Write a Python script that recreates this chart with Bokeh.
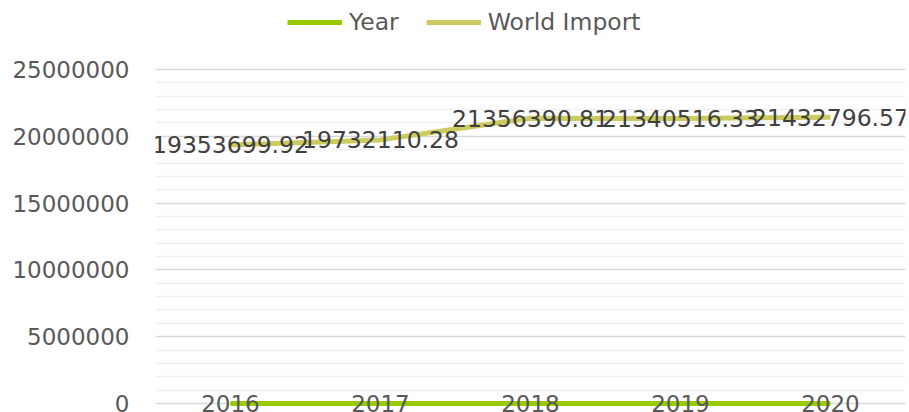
from bokeh.plotting import figure
from bokeh.models import (ColumnDataSource, FixedTicker, NumeralTickFormatter, LabelSet,
                          Legend, LegendItem, Range1d, FactorRange)
from bokeh.core.properties import value
from bokeh.embed import file_html
from bokeh.resources import INLINE

# ---- data ----
years = ["2016", "2017", "2018", "2019", "2020"]
year_values = [2016, 2017, 2018, 2019, 2020]
world_import = [19353699.92, 19732110.28, 21356390.81, 21340516.33, 21432796.57]
y_major_ticks = [0, 5000000, 10000000, 15000000, 20000000, 25000000]
y_minor_ticks = [m for m in range(0, 25000001, 1000000) if m % 5000000]

FONT = "DejaVu Sans"
YEAR_COLOR = "#9ACB00"
IMPORT_COLOR = "#CBCB60"

src = ColumnDataSource(dict(
    year=years,
    year_value=year_values,
    imp=world_import,
    imp_text=[f"{v:.2f}" for v in world_import],
))

p = figure(width=909, height=412,
           x_range=FactorRange(*years),
           y_range=Range1d(-674000, 30165000),
           output_backend="svg", toolbar_location=None,
           min_border_left=155, min_border_right=4,
           min_border_top=0, min_border_bottom=0)
p.outline_line_color = None
p.background_fill_color = "white"
p.border_fill_color = "white"

# grids
p.xgrid.grid_line_color = None
p.yaxis.ticker = FixedTicker(ticks=y_major_ticks, minor_ticks=y_minor_ticks)
p.ygrid.grid_line_color = "#D9D9D9"
p.ygrid.grid_line_width = 1.5
p.ygrid.minor_grid_line_color = "#F0F0F0"
p.ygrid.minor_grid_line_width = 1.5

# y axis
p.yaxis.formatter = NumeralTickFormatter(format="0")
p.yaxis.axis_line_color = None
p.yaxis.major_tick_line_color = None
p.yaxis.minor_tick_line_color = None
p.yaxis.major_label_standoff = 20
p.yaxis.major_label_text_font = FONT
p.yaxis.major_label_text_font_size = "23px"
p.yaxis.major_label_text_color = "#595959"

# x axis drawn at y = 0
p.xaxis.fixed_location = 0
p.xaxis.axis_line_color = None
p.xaxis.major_tick_line_color = None
p.xaxis.minor_tick_line_color = None
p.xaxis.major_label_standoff = -14
p.xaxis.major_label_text_font = FONT
p.xaxis.major_label_text_font_size = "23px"
p.xaxis.major_label_text_color = "#595959"

# lines
r_imp = p.line(x="year", y="imp", source=src, line_color=IMPORT_COLOR, line_width=5)
r_year = p.line(x="year", y="year_value", source=src, line_color=YEAR_COLOR, line_width=5)

labels = LabelSet(x="year", y="imp", text="imp_text", source=src,
                  text_align="center", text_baseline="middle",
                  text_font=value(FONT), text_font_size=value("23.5px"),
                  text_color="#404040")
p.add_layout(labels)

legend = Legend(items=[LegendItem(label="Year", renderers=[r_year]),
                       LegendItem(label="World Import", renderers=[r_imp])],
                orientation="horizontal", location=(132, 376),
                glyph_width=55, glyph_height=20, label_standoff=7, spacing=27,
                padding=0, margin=0, border_line_color=None,
                background_fill_alpha=0,
                label_text_font=FONT, label_text_font_size="23.5px",
                label_text_color="#595959")
p.add_layout(legend)

open("out.html", "w").write(file_html(p, INLINE))
